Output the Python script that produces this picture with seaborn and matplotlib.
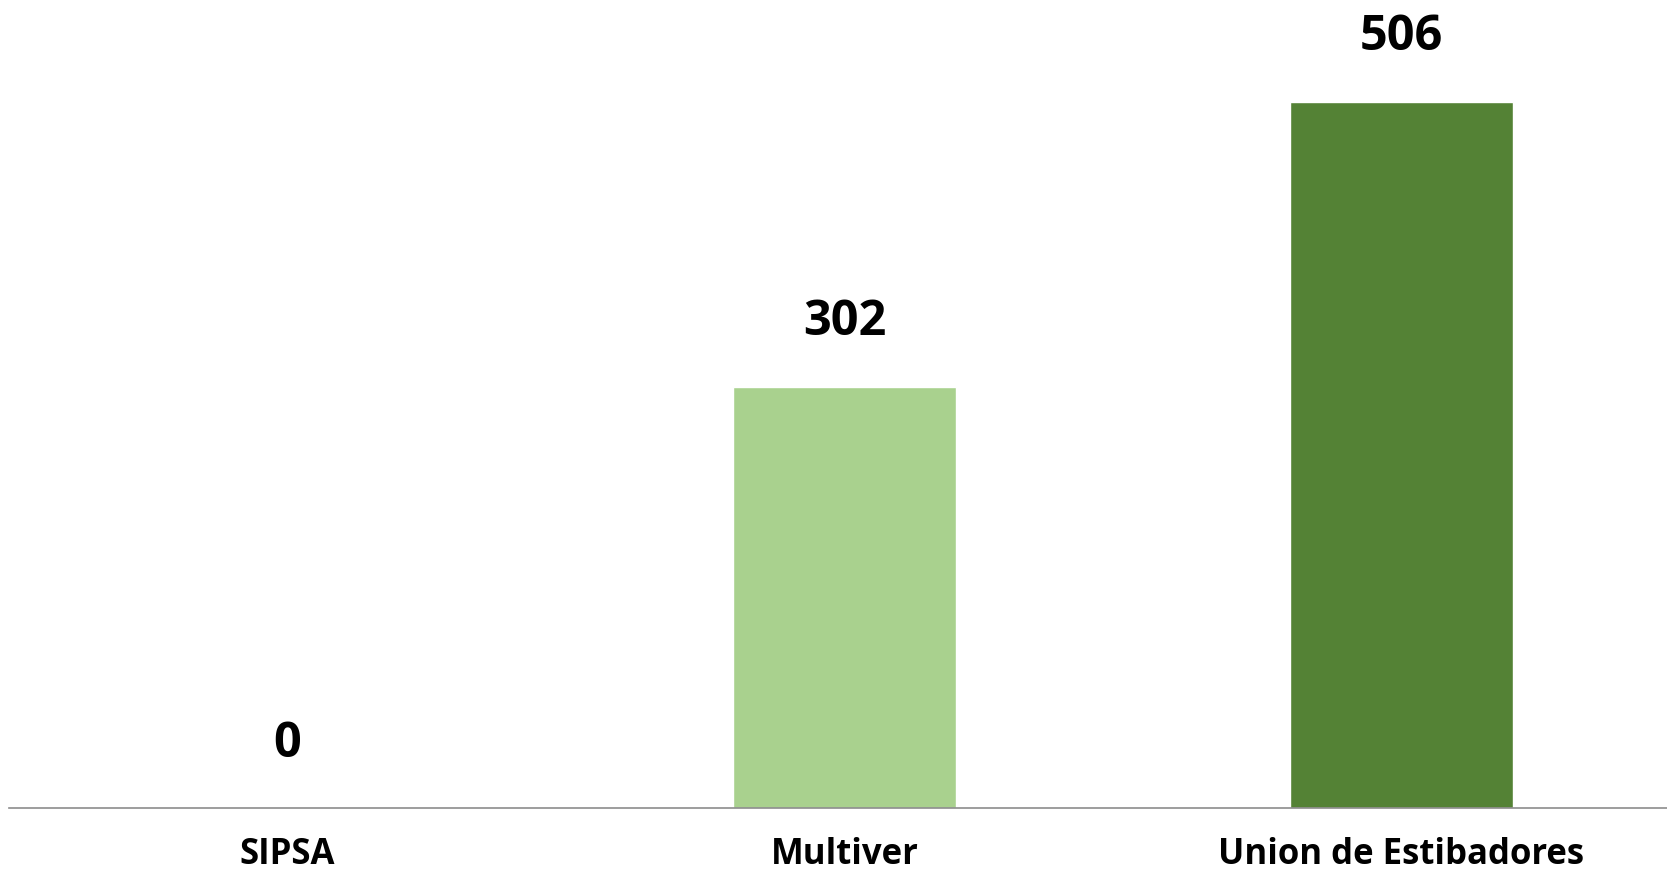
import matplotlib
matplotlib.use("Agg")
import matplotlib.pyplot as plt
import seaborn as sns
import pandas as pd

# chart data
categories = ["SIPSA", "Multiver", "Union de Estibadores"]
values = [0, 302, 506]
bar_colors = ["#A9D18E", "#A9D18E", "#548235"]

df = pd.DataFrame({"empresa": categories, "total": values})

sns.set_theme(style="white")
plt.rcParams['font.family'] = ['Open Sans', 'DejaVu Sans']

fig = plt.figure(figsize=(16.67, 8.72), dpi=100)
ax = fig.add_axes([9 / 1667, 64 / 872, 1671 / 1667, 808 / 872])

sns.barplot(data=df, x="empresa", y="total", hue="empresa", palette=bar_colors,
            legend=False, width=0.4, saturation=1, ax=ax)

ax.set_ylim(0, 579)
ax.set_xlim(-0.5, 2.5)
ax.set_xlabel("")
ax.set_ylabel("")
ax.set_yticks([])

for i, v in enumerate(values):
    ax.annotate(f"{v}", (i, v), xytext=(0, 37), textcoords="offset points",
                ha="center", va="baseline", fontsize=35, fontweight="bold", color="black")

ax.tick_params(axis="x", length=0, pad=21, labelsize=25)
for lbl in ax.get_xticklabels():
    lbl.set_fontweight("bold")
    lbl.set_color("black")

for side in ["top", "right", "left"]:
    ax.spines[side].set_visible(False)
ax.spines["bottom"].set_color("#8c8c8c")
ax.spines["bottom"].set_linewidth(1.2)

fig.savefig("out.png", dpi=100, facecolor="white")
